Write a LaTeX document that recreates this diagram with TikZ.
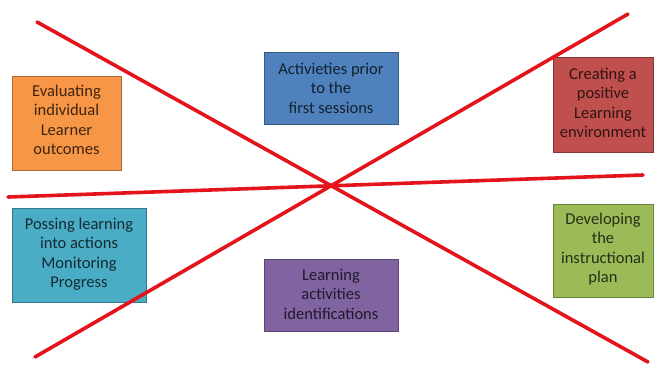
\documentclass[tikz,border=0pt]{standalone}
\usepackage{fontspec}
\setmainfont{Carlito}
\begin{document}
\begin{tikzpicture}[x=1pt,y=-1pt,
  box/.style={draw=#1!70!black, line width=0.8pt, fill=#1},
  lbl/.style={align=center, font=\fontsize{16.5}{19.5}\selectfont, inner sep=0pt},
  cross/.style={draw={rgb,255:red,228;green,20;blue,28}, line width=3.6pt, line cap=round}]
\definecolor{cOrange}{HTML}{F79646}
\definecolor{cBlue}{HTML}{4F81BD}
\definecolor{cRed}{HTML}{C0504D}
\definecolor{cCyan}{HTML}{4BACC6}
\definecolor{cPurple}{HTML}{8064A2}
\definecolor{cGreen}{HTML}{9BBB59}
\useasboundingbox (0,0) rectangle (654,370);
\fill[white] (0,0) rectangle (654,370);
% boxes
\draw[box=cOrange] (12,76) rectangle (121,170);
\node[lbl, text=cOrange!25!black] (orange) at (66.5,120) {Evaluating\\individual\\Learner\\outcomes};
\draw[box=cBlue] (264,52) rectangle (398,124);
\node[lbl, text=cBlue!25!black] (blue) at (331,88) {Activieties prior\\to the\\first sessions};
\draw[box=cRed] (553,57) rectangle (653,152);
\node[lbl, text=cRed!25!black] (red) at (603,103) {Creating a\\positive\\Learning\\environment};
\draw[box=cCyan] (12,208) rectangle (146,302);
\node[lbl, text=cCyan!25!black] (cyan) at (79,254) {Possing learning\\into actions\\Monitoring\\Progress};
\draw[box=cPurple] (264,259) rectangle (398,331);
\node[lbl, text=cPurple!25!black] (purple) at (331,294) {Learning\\activities\\identifications};
\draw[box=cGreen] (553,204) rectangle (653,297);
\node[lbl, text=cGreen!25!black] (green) at (603,249) {Developing\\the\\instructional\\plan};
% red crossing lines
\coordinate (a1) at (37,22);
\coordinate (a2) at (648,362);
\coordinate (b1) at (628,14);
\coordinate (b2) at (35,357);
\coordinate (c1) at (8,197);
\coordinate (c2) at (643,175);
\draw[cross] (a1) -- (a2);
\draw[cross] (b1) -- (b2);
\draw[cross] (c1) -- (c2);
\end{tikzpicture}
\end{document}
